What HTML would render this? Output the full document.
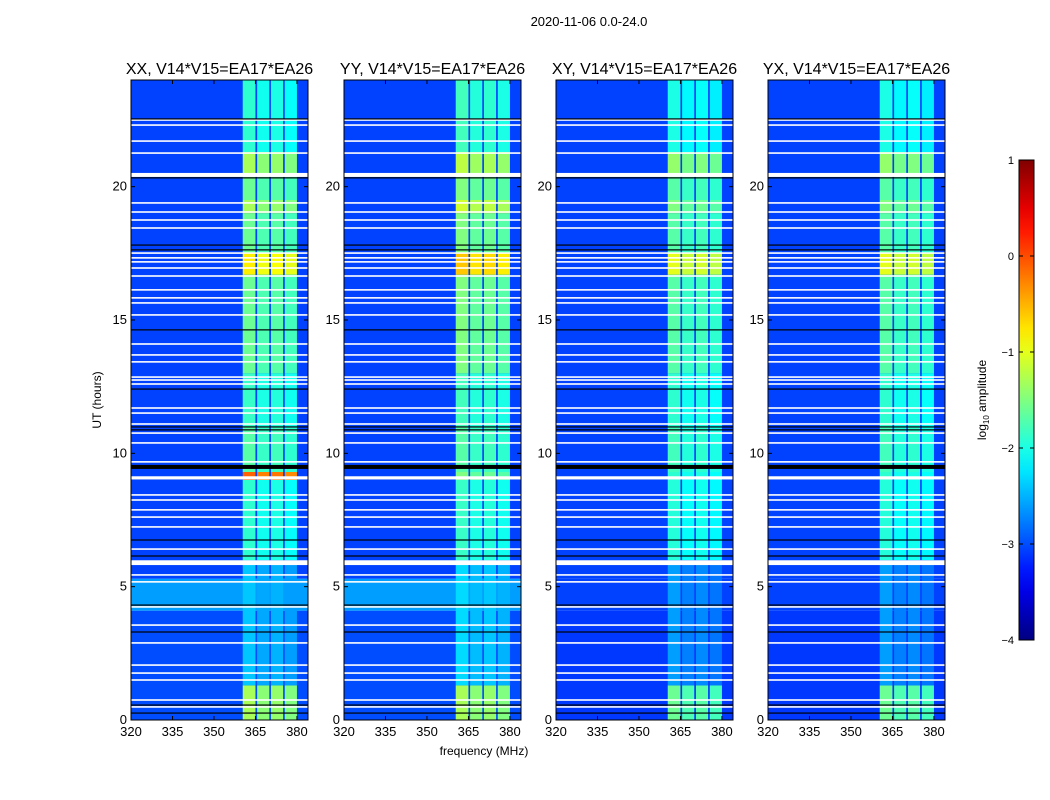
<!DOCTYPE html>
<html><head><meta charset="utf-8"><style>
body{margin:0;background:#fff;}
svg{display:block;font-family:"Liberation Sans","DejaVu Sans",sans-serif;}
</style></head><body>
<svg id="fig" width="1050" height="800" viewBox="0 0 1050 800">
<defs><linearGradient id="jet" x1="0" y1="1" x2="0" y2="0"></linearGradient></defs>
<text x="589" y="26" font-size="13" text-anchor="middle">2020-11-06 0.0-24.0</text>
<g id="panels"></g>
<text x="484" y="755" font-size="12" text-anchor="middle">frequency (MHz)</text>
<text transform="translate(101,400) rotate(-90)" font-size="12" text-anchor="middle">UT (hours)</text>
<g id="cbar"></g>
<text transform="translate(986,400) rotate(-90)" font-size="12" text-anchor="middle">log<tspan font-size="8" dy="3">10</tspan><tspan dy="-3"> amplitude</tspan></text>
</svg>
<script>
// ---- data ----
const panelTitles = ["XX, V14*V15=EA17*EA26","YY, V14*V15=EA17*EA26","XY, V14*V15=EA17*EA26","YX, V14*V15=EA17*EA26"];
const xTicks = [320,335,350,365,380];
const yTicks = [0,5,10,15,20];
const cbTicks = [1,0,-1,-2,-3,-4];
const bandLow = [360.4,365.6,370.6,375.6];
const bandHigh = [365.0,370.0,375.0,380.0];
const bandColOffset = [0,-0.15,-0.1,-0.2];
const bandSegStart = [0,1.3,6,9,9.3,11,13,16.7,17.5,19,19.5,20.5,21.3];
const bandXX = [-1.3,-2.4,-1.9,-0.1,-1.7,-1.85,-1.6,-0.8,-1.6,-1.3,-1.6,-1.3,-1.9];
const bandYY = [-1.3,-2.3,-1.85,-1.5,-1.7,-1.8,-1.5,-0.6,-1.5,-1.1,-1.5,-1.2,-1.8];
const bandXY = [-1.6,-2.6,-1.95,-1.9,-1.8,-1.9,-1.7,-1.0,-1.7,-1.5,-1.7,-1.4,-2.0];
const bandYX = [-1.6,-2.6,-1.95,-1.9,-1.8,-1.9,-1.7,-1.0,-1.7,-1.5,-1.7,-1.4,-2.0];
const bgSegStart = [0,4.1,5.3];
const bgXX = [-3.0,-2.6,-3.05];
const bgYY = [-3.0,-2.6,-3.05];
const bgXY = [-3.1,-3.05,-3.05];
const bgYX = [-3.1,-3.05,-3.05];
const whiteTimes = [22.5,22.31,21.71,21.26,20.44,19.39,19.05,18.75,18.45,17.51,17.33,17.18,16.95,16.65,16.13,15.83,15.64,15.19,14.1,13.69,13.43,12.86,12.75,12.6,11.7,11.51,11.1,10.76,10.39,9.68,9.08,8.44,8.25,7.88,7.61,7.24,6.41,5.9,5.44,5.18,4.24,3.56,2.89,2.06,1.76,1.5,0.75,0.49];
const whiteWidths = [0.06,0.06,0.05,0.05,0.15,0.05,0.05,0.05,0.05,0.05,0.05,0.05,0.05,0.05,0.05,0.05,0.05,0.05,0.05,0.05,0.05,0.06,0.06,0.06,0.05,0.05,0.05,0.05,0.05,0.05,0.12,0.05,0.05,0.05,0.05,0.05,0.05,0.18,0.05,0.05,0.05,0.05,0.05,0.05,0.05,0.05,0.05,0.05];
const blackTimes = [22.54,20.33,17.81,17.63,14.63,12.41,10.99,10.88,9.49,6.75,6.15,4.31,3.3,0.56,0.26];
const blackWidths = [0.04,0.04,0.04,0.04,0.04,0.04,0.04,0.04,0.15,0.04,0.04,0.04,0.04,0.04,0.04];

const panelBand = [bandXX,bandYY,bandXY,bandYX];
const panelBg = [bgXX,bgYY,bgXY,bgYX];
const panelX = [131,344,556,768];
const PW = 177, PT = 80, PB = 720;
const FMIN = 320, FMAX = 384, TMAX = 24, VMIN = -4, VMAX = 1;
const NS = "http://www.w3.org/2000/svg";

function jet(v){
  const f = Math.max(0,Math.min(1,(v-VMIN)/(VMAX-VMIN)));
  const c = x => Math.round(255*Math.max(0,Math.min(1,x)));
  return `rgb(${c(1.5-Math.abs(4*f-3))},${c(1.5-Math.abs(4*f-2))},${c(1.5-Math.abs(4*f-1))})`;
}
function mk(tag, attrs, parent){
  const e = document.createElementNS(NS, tag);
  for (const k in attrs) e.setAttribute(k, attrs[k]);
  parent.appendChild(e);
  return e;
}
const yScale = t => PB - (t/TMAX)*(PB-PT);
const panelsG = document.getElementById('panels');

panelTitles.forEach((title, p) => {
  const x0 = panelX[p];
  const xScale = f => x0 + (f-FMIN)/(FMAX-FMIN)*PW;
  const g = mk('g', {}, panelsG);
  
  
  const bg = panelBg[p], band = panelBand[p];
  bgSegStart.forEach((t0, i) => {
    const t1 = i+1 < bgSegStart.length ? bgSegStart[i+1] : TMAX;
    const r = mk('rect', {x:x0, y:yScale(t1), width:PW, height:yScale(t0)-yScale(t1), fill:jet(bg[i])}, g);
    
    
  });
  bandSegStart.forEach((t0, i) => {
    const t1 = i+1 < bandSegStart.length ? bandSegStart[i+1] : TMAX;
    bandLow.forEach((f0, c) => {
      const r = mk('rect', {x:xScale(f0), y:yScale(t1), width:xScale(bandHigh[c])-xScale(f0), height:yScale(t0)-yScale(t1), fill:jet(band[i]+bandColOffset[c])}, g);
      
      
    });
  });
  whiteTimes.forEach((t, i) => {
    const h = Math.max(1.6, whiteWidths[i]/TMAX*(PB-PT));
    const r = mk('rect', {x:x0, y:yScale(t)-h/2, width:PW, height:h, fill:'#fff'}, g);
    
    
  });
  blackTimes.forEach((t, i) => {
    const h = Math.max(1.2, blackWidths[i]/TMAX*(PB-PT));
    const r = mk('rect', {x:x0, y:yScale(t)-h/2, width:PW, height:h, fill:'#000'}, g);
    
    
  });
  const fr = mk('rect', {x:x0, y:PT, width:PW, height:PB-PT, fill:'none', stroke:'#000', 'stroke-width':1}, g);
  
  
  const tt = mk('text', {x:x0+PW/2, y:74, 'font-size':16, 'text-anchor':'middle'}, g);
  tt.textContent = title;
  
  
  xTicks.forEach(f => {
    const x = xScale(f);
    mk('line', {x1:x, x2:x, y1:PB, y2:PB-4, stroke:'#000'}, g);
    mk('line', {x1:x, x2:x, y1:PT, y2:PT+4, stroke:'#000'}, g);
    const t = mk('text', {x:x, y:PB+16, 'font-size':13, 'text-anchor':'middle'}, g);
    t.textContent = f;
    
    
  });
  yTicks.forEach(v => {
    const y = yScale(v);
    mk('line', {x1:x0, x2:x0+4, y1:y, y2:y, stroke:'#000'}, g);
    mk('line', {x1:x0+PW, x2:x0+PW-4, y1:y, y2:y, stroke:'#000'}, g);
    const t = mk('text', {x:x0-4, y:y+4, 'font-size':13, 'text-anchor':'end'}, g);
    t.textContent = v;
    
    
  });
});

const grad = document.getElementById('jet');
for (let i = 0; i <= 20; i++) {
  const v = VMIN + (VMAX-VMIN)*i/20;
  mk('stop', {offset:(i/20), 'stop-color':jet(v)}, grad);
}
const cb = document.getElementById('cbar');
const CBX = 1019, CBW = 15, CBT = 160, CBB = 640;
const cbY = v => CBB - (v-VMIN)/(VMAX-VMIN)*(CBB-CBT);
const cbr = mk('rect', {x:CBX, y:CBT, width:CBW, height:CBB-CBT, fill:'url(#jet)', stroke:'#000'}, cb);


cbTicks.forEach(v => {
  const y = cbY(v);
  mk('line', {x1:CBX, x2:CBX+4, y1:y, y2:y, stroke:'#000'}, cb);
  mk('line', {x1:CBX+CBW, x2:CBX+CBW-4, y1:y, y2:y, stroke:'#000'}, cb);
  const t = mk('text', {x:CBX-5, y:y+4, 'font-size':11, 'text-anchor':'end'}, cb);
  t.textContent = v < 0 ? '\u2212' + (-v) : v;
  
  
});
</script>
</body></html>
